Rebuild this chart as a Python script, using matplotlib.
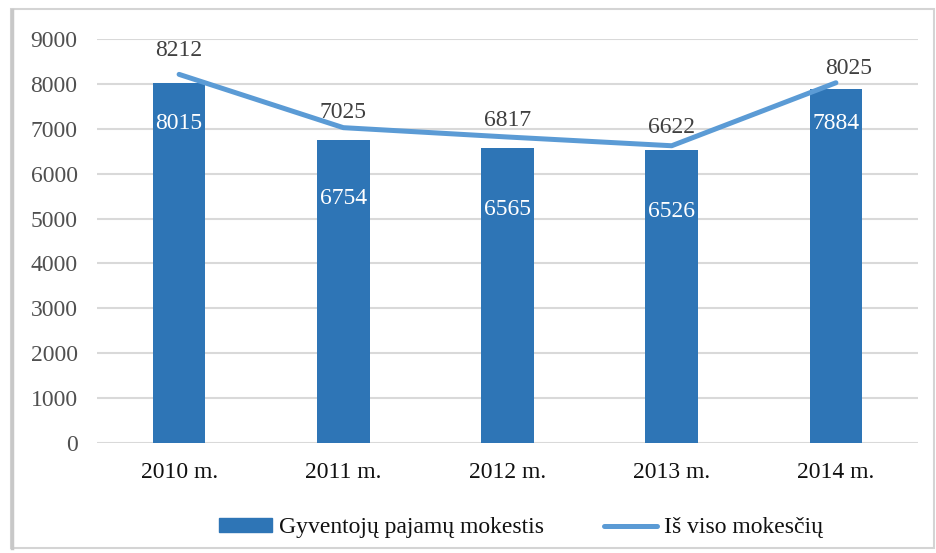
import matplotlib
matplotlib.use("Agg")
import matplotlib.pyplot as plt
from matplotlib.patches import Rectangle
from matplotlib.lines import Line2D

years = ["2010 m.", "2011 m.", "2012 m.", "2013 m.", "2014 m."]
income_tax = [8015, 6754, 6565, 6526, 7884]
total_taxes = [8212, 7025, 6817, 6622, 8025]
y_ticks = [0, 1000, 2000, 3000, 4000, 5000, 6000, 7000, 8000, 9000]

bar_name = "Gyventojų pajamų mokestis"
line_name = "Iš viso mokesčių"

BAR_COLOR = "#2E75B6"
LINE_COLOR = "#5B9BD5"
TEXT_COLOR = "#404040"
GRID_COLOR = "#D9D9D9"

# label offsets in points (inside bars downward, above line upward)
bar_label_offsets = [-29, -42, -44, -44, -25]
line_label_offsets = [17, 11, 12, 13, 10]
line_label_dx = [0, 0, 0, 0, 9]

plt.rcParams["font.family"] = ["Liberation Serif", "DejaVu Serif"]

fig = plt.figure(figsize=(9.36, 5.53), dpi=100)
W, H = 936, 553
ax = fig.add_axes([97 / W, 1 - 443 / H, (918 - 97) / W, (443 - 39) / H])

x = list(range(len(years)))
ax.bar(x, income_tax, width=0.32, color=BAR_COLOR, zorder=2, label=bar_name)
ax.plot(x, total_taxes, color=LINE_COLOR, lw=3.6, solid_capstyle="round",
        solid_joinstyle="round", zorder=3, label=line_name)

ax.set_xlim(-0.5, len(years) - 0.5)
ax.set_ylim(0, 9000)
ax.set_yticks(y_ticks)
ax.set_yticklabels([str(t) for t in y_ticks])
ax.set_xticks(x)
ax.set_xticklabels(years)
ax.tick_params(axis="y", length=0, pad=14, labelsize=17, labelcolor="#505050")
ax.tick_params(axis="x", length=0, pad=14, labelsize=17, labelcolor="#111111")
ax.grid(axis="y", color=GRID_COLOR, lw=1.5, zorder=0)
ax.set_axisbelow(True)
for s in ax.spines.values():
    s.set_visible(False)

for i, v in enumerate(income_tax):
    ax.annotate(str(v), (i, v), xytext=(0, bar_label_offsets[i]),
                textcoords="offset points", ha="center", va="center",
                color="white", fontsize=17, zorder=4)
for i, v in enumerate(total_taxes):
    ax.annotate(str(v), (i, v), xytext=(line_label_dx[i], line_label_offsets[i]),
                textcoords="offset points", ha="center", va="center",
                color=TEXT_COLOR, fontsize=17, zorder=4)

handles = [Rectangle((0, 0), 1, 1, color=BAR_COLOR),
           Line2D([0], [0], color=LINE_COLOR, lw=3.6, solid_capstyle="round")]
fig.legend(handles, [bar_name, line_name], loc="center",
           bbox_to_anchor=(521 / W, 1 - 528 / H), ncol=2, frameon=False,
           fontsize=17, handlelength=2.25, handleheight=0.55,
           columnspacing=2.5, handletextpad=0.3, labelcolor="#111111",
           borderpad=0, borderaxespad=0)

# chart frame
fig.patches.append(Rectangle((11 / W, 1 - 548 / H), (934 - 11) / W, (548 - 9) / H,
                             transform=fig.transFigure, fill=False,
                             edgecolor="#D4D4D4", lw=1.5, zorder=0))
fig.lines.append(Line2D([12 / W, 12 / W], [1 - 548 / H, 1 - 10 / H],
                        transform=fig.transFigure, color="#C8C8C8", lw=2.5))

fig.savefig("out.png", dpi=100)
